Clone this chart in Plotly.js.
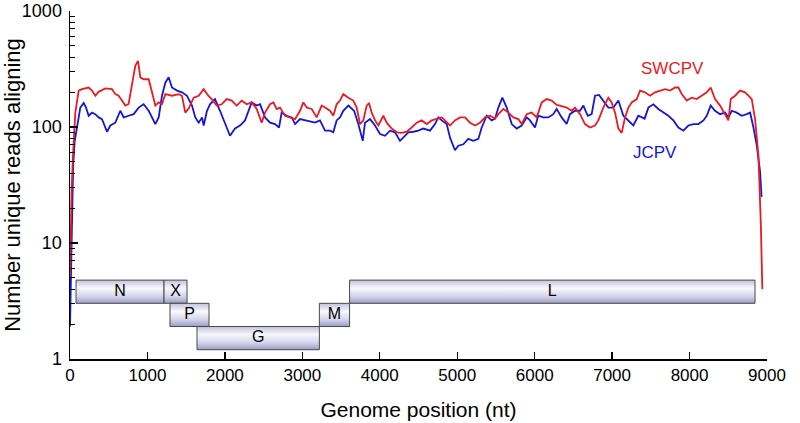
<!DOCTYPE html>
<html>
<head>
<meta charset="utf-8">
<script src="https://cdn.plot.ly/plotly-3.0.1.min.js"></script>
<style>html,body{margin:0;padding:0;background:#fff}#chart{width:800px;height:423px}</style>
</head>
<body>
<div id="chart"></div>
<script>
// ---- Coverage data (genome position nt, number of unique reads) ----
const swcpvPos = [0,10,20,40,69,112,155,241,284,327,370,456,542,585,628,671,714,757,800,843,878,908,951,1016,1059,1102,1145,1188,1231,1317,1404,1446,1489,1532,1597,1662,1726,1786,1829,1894,1959,2023,2088,2152,2217,2282,2346,2411,2475,2518,2583,2626,2669,2712,2776,2841,2906,2970,3013,3056,3121,3185,3250,3293,3357,3400,3443,3486,3529,3594,3658,3702,3745,3788,3831,3861,3896,3939,3982,4046,4089,4154,4219,4283,4348,4412,4477,4541,4606,4671,4735,4800,4843,4907,4971,5036,5101,5165,5230,5294,5359,5424,5488,5531,5596,5660,5725,5789,5832,5897,5961,6026,6091,6155,6220,6284,6349,6413,6478,6521,6586,6650,6715,6779,6822,6887,6951,6994,7038,7081,7124,7167,7210,7253,7318,7361,7425,7490,7554,7619,7684,7748,7813,7856,7899,7964,8028,8093,8157,8222,8273,8329,8394,8459,8502,8532,8588,8652,8717,8760,8803,8846,8889,8920,8940];
const swcpvReads = [5,12,28,60,133,206,212,219,206,186,201,215,212,192,186,169,153,158,241,337,372,268,258,258,199,153,163,158,192,186,192,186,133,144,179,186,212,186,174,153,157,174,169,153,169,157,163,143,109,133,157,163,143,147,125,121,117,138,163,147,143,121,153,147,138,125,157,169,192,179,169,147,106,114,153,161,133,114,103,125,109,97,90,89,91,99,109,114,106,114,117,121,114,103,114,121,121,109,103,109,121,125,118,129,143,133,121,117,106,129,133,121,163,174,169,155,151,147,138,147,129,106,99,103,114,147,179,163,133,97,89,121,147,163,174,206,199,186,199,206,212,206,219,219,192,169,179,174,186,199,219,174,153,129,114,174,186,206,199,186,174,117,57,15,4];

const jcpvPos = [0,10,25,40,60,90,133,177,207,241,284,327,370,413,456,478,521,585,650,693,757,822,887,951,1016,1059,1102,1145,1188,1231,1274,1317,1382,1446,1511,1575,1618,1662,1705,1726,1769,1808,1872,1937,2001,2066,2131,2195,2260,2303,2346,2411,2454,2518,2583,2647,2699,2733,2798,2863,2906,2970,3035,3099,3164,3228,3293,3357,3400,3443,3486,3529,3594,3668,3723,3780,3809,3874,3939,4003,4068,4132,4197,4261,4304,4369,4433,4498,4562,4649,4713,4756,4800,4864,4907,4971,5014,5079,5143,5208,5273,5316,5381,5445,5488,5531,5583,5639,5704,5768,5832,5897,5940,6004,6047,6111,6176,6241,6284,6349,6413,6456,6521,6586,6629,6685,6736,6779,6831,6887,6951,7016,7081,7145,7210,7274,7339,7420,7468,7533,7597,7662,7726,7791,7856,7920,7985,8050,8114,8179,8222,8273,8329,8394,8459,8502,8545,8609,8674,8739,8782,8825,8868,8911,8930];
const jcpvReads = [1.9,5,20,45,75,96,147,161,147,125,133,129,121,117,99,91,103,109,138,121,125,129,147,157,138,121,106,121,186,241,268,219,206,199,186,153,121,109,121,103,138,157,174,138,106,84,97,103,114,138,163,153,157,121,109,106,99,133,125,121,106,117,114,111,109,114,93,93,90,114,121,138,153,138,106,76,109,117,103,87,84,93,90,76,81,90,91,93,97,93,106,121,114,106,81,63,69,71,79,76,79,99,125,114,118,147,179,147,106,97,103,121,114,99,125,121,121,129,143,121,106,129,138,138,153,125,129,186,189,169,147,147,169,125,114,103,125,118,147,157,143,133,125,114,99,93,103,106,106,114,125,153,138,129,133,121,138,133,125,129,133,99,69,41,25];

// ---- Gene map ----
const geneNames = ['N','X','P','G','M','L'];
const geneStart = [78,1214,1291,1640,3220,3610];
const geneEnd   = [1214,1511,1795,3220,3610,8845];
const geneRow   = [0,0,1,2,1,0];

// ---- Axis tick labels ----
const xTicks = [0,1000,2000,3000,4000,5000,6000,7000,8000,9000];
const yTicks = [1,10,100,1000];
const yTickText = ['1','10','100','1000'];

// row bounds (log-spaced rows below the coverage curves)
const rowLo = [Math.pow(10,0.48), Math.pow(10,0.28), Math.pow(10,0.08)];
const rowHi = [Math.pow(10,0.68), Math.pow(10,0.48), Math.pow(10,0.28)];

const FONT = 'Liberation Sans, Arial, Helvetica, sans-serif';
const traces = [];

geneNames.forEach((g, i) => {
  const lo = rowLo[geneRow[i]], hi = rowHi[geneRow[i]];
  traces.push({
    type: 'scatter', mode: 'lines',
    x: [geneStart[i], geneEnd[i], geneEnd[i], geneStart[i], geneStart[i]],
    y: [lo, lo, hi, hi, lo],
    fill: 'toself',
    fillcolor: '#e0e0f0',
    fillgradient: {type: 'vertical', colorscale: [[0,'#9c9cc6'],[0.3,'#d4d4ea'],[0.65,'#f8f8fc'],[1,'#c2c2de']]},
    line: {color: '#4a4a4a', width: 1},
    hoverinfo: 'skip', showlegend: false
  });
});

traces.push({
  type: 'scatter', mode: 'text',
  x: geneNames.map((g, i) => (geneStart[i] + geneEnd[i]) / 2),
  y: geneRow.map(r => Math.sqrt(rowLo[r] * rowHi[r])),
  text: geneNames,
  textposition: 'middle center',
  textfont: {family: FONT, size: 16, color: '#000'},
  hoverinfo: 'skip', showlegend: false
});

traces.push({
  type: 'scatter', mode: 'lines', name: 'JCPV',
  x: jcpvPos, y: jcpvReads,
  line: {color: '#1616d8', width: 1.8}, showlegend: false
});
traces.push({
  type: 'scatter', mode: 'lines', name: 'SWCPV',
  x: swcpvPos, y: swcpvReads,
  line: {color: '#ec1a22', width: 1.8}, showlegend: false
});

const layout = {
  width: 800, height: 423,
  margin: {l: 70, r: 33, t: 11, b: 64},
  paper_bgcolor: '#fff', plot_bgcolor: '#fff',
  font: {family: FONT, color: '#000'},
  showlegend: false,
  xaxis: {
    range: [0, 9000], tickvals: xTicks, ticks: 'inside', ticklen: 7, tickwidth: 1.3,
    tickcolor: '#000', showline: true, linecolor: '#000', linewidth: 1.5,
    showgrid: false, zeroline: false,
    tickfont: {family: FONT, size: 17},
    title: {text: 'Genome position (nt)', font: {family: FONT, size: 21}, standoff: 18}
  },
  yaxis: {
    type: 'log', range: [0, 3], tickvals: yTicks, ticktext: yTickText,
    ticks: 'inside', ticklen: 8, tickwidth: 1.3, tickcolor: '#000',
    ticklabelstandoff: 3,
    minor: {dtick: 'D1', ticks: 'inside', ticklen: 5, tickwidth: 1, tickcolor: '#000', showgrid: false},
    showline: true, linecolor: '#000', linewidth: 1.5,
    showgrid: false, zeroline: false,
    tickfont: {family: FONT, size: 18},
    title: {text: 'Number unique reads aligning', font: {family: FONT, size: 22}, standoff: 0}
  },
  annotations: [
    {xref: 'paper', yref: 'paper', x: 0.864, y: 0.834, text: 'SWCPV', showarrow: false,
     font: {family: FONT, size: 17, color: '#ec1a22'}, xanchor: 'center', yanchor: 'middle'},
    {xref: 'paper', yref: 'paper', x: 0.839, y: 0.593, text: 'JCPV', showarrow: false,
     font: {family: FONT, size: 17, color: '#1616d8'}, xanchor: 'center', yanchor: 'middle'}
  ]
};

Plotly.newPlot('chart', traces, layout, {staticPlot: true, displayModeBar: false});
</script>
</body>
</html>
